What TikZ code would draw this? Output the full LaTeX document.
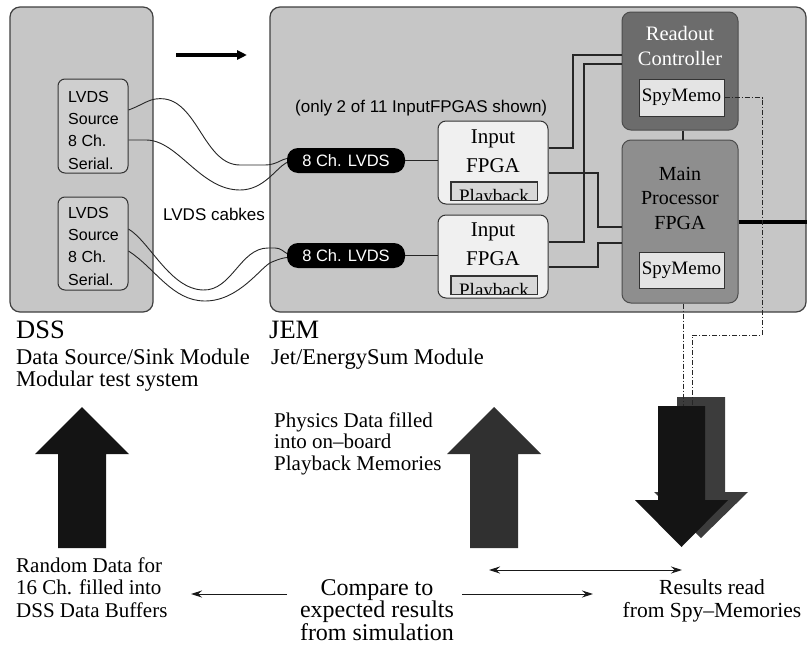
\documentclass[tikz,border=0pt]{standalone}
\usepackage{fontspec}
\setmainfont{Liberation Serif}
\setsansfont{Liberation Sans}
\usetikzlibrary{arrows.meta,calc}

\definecolor{panelgray}{HTML}{C6C6C6}
\definecolor{srcgray}{HTML}{CFCFCF}
\definecolor{fpgafill}{HTML}{F0F0F0}
\definecolor{pbfill}{HTML}{D8D8D8}
\definecolor{rocfill}{HTML}{6C6C6C}
\definecolor{mpfill}{HTML}{8E8E8E}
\definecolor{spyfill}{HTML}{E4E4E4}
\definecolor{arrowblack}{HTML}{141414}
\definecolor{arrowdark}{HTML}{303030}
\definecolor{arrowmid}{HTML}{3C3C3C}

\newcommand\fsz[2]{\fontsize{#1}{#2}\selectfont}

\begin{document}
\begin{tikzpicture}[x=1pt,y=-1pt,
  panel/.style={draw=black!75, line width=1.2pt, fill=panelgray, rounded corners=10pt, inner sep=0pt},
  srcbox/.style={draw=black!80, line width=1pt, fill=srcgray, rounded corners=7pt, inner sep=0pt,
                 minimum width=70pt, minimum height=94pt},
  pill/.style={fill=black, rounded corners=11pt, text=white, font=\sffamily\fsz{16.5}{18}, inner sep=0pt,
               minimum width=118pt, minimum height=25pt},
  fpga/.style={draw=black!80, line width=1pt, fill=fpgafill, rounded corners=8pt, inner sep=0pt,
               minimum width=110pt, minimum height=83pt},
  pbbox/.style={draw=black!80, line width=1pt, fill=pbfill, inner sep=0pt, minimum width=86pt, minimum height=18pt},
  ctrlbox/.style={draw=black!70, line width=1pt, rounded corners=9pt, inner sep=0pt, minimum width=116pt},
  spybox/.style={draw=black!80, line width=1pt, fill=spyfill, inner sep=0pt, minimum width=85pt, minimum height=37pt,
                 font=\fsz{19}{20}},
  wire/.style={draw=black!85, line width=1.2pt},
  cable/.style={draw=black!85, line width=0.9pt},
  spyline/.style={draw=black!85, line width=0.9pt, dash pattern=on 5pt off 2pt on 1pt off 2pt},
  lbl/.style={inner sep=0pt, anchor=base west},
  smallarrow/.style={draw=black!90, line width=1pt, -{Stealth[length=11pt,width=7pt]}},
]
\useasboundingbox[fill=white] (0,0) rectangle (807,645);

% ---------- module panels ----------
\node[panel, minimum width=143pt, minimum height=305pt] (dss) at (81.5,159.5) {};
\node[panel, minimum width=536pt, minimum height=305pt] (jem) at (538,159.5) {};

% flow direction arrow
\coordinate (flowA) at (176,55);
\coordinate (flowB) at (247,55);
\draw[line width=4pt, -{Triangle[length=10pt,width=9pt]}] (flowA) -- (flowB);

% ---------- DSS sources (multi-line labels are placed by their last baseline) ----------
\node[srcbox] (src1) at (93,126) {};
\node[srcbox, minimum height=93pt] (src2) at (93,243.5) {};
\node[lbl, font=\sffamily\fsz{16}{22.3}, align=left] (src1txt) at (68,169) {LVDS\\Source\\8 Ch.\\Serial.};
\node[lbl, font=\sffamily\fsz{16}{22.3}, align=left] (src2txt) at (68,285) {LVDS\\Source\\8 Ch.\\Serial.};

% ---------- JEM inputs ----------
\node[pill] (pill1) at (346,160.5) {8 Ch. LVDS};
\node[pill] (pill2) at (346,255.5) {8 Ch. LVDS};

\node[lbl, font=\sffamily\fsz{17}{18}] (note) at (295,112) {(only 2 of 11 InputFPGAS shown)};
\node[lbl, font=\sffamily\fsz{17}{18}] (cables) at (163,220) {LVDS cabkes};

\node[fpga] (in1) at (493,162.5) {};
\node[fpga] (in2) at (493,256.5) {};
\node[font=\fsz{21}{29}, align=center, inner sep=0pt, anchor=base] (in1txt) at (493,172) {Input\\FPGA};
\node[font=\fsz{21}{29}, align=center, inner sep=0pt, anchor=base] (in2txt) at (493,265) {Input\\FPGA};

\node[pbbox] (pb1) at (494,191) {};
\node[pbbox] (pb2) at (494,285) {};
\begin{scope}
  \clip (pb1.south west) rectangle (pb1.north east);
  \node[font=\fsz{19}{20}, inner sep=0pt, anchor=base] (pb1txt) at (494,202) {Playback};
\end{scope}
\begin{scope}
  \clip (pb2.south west) rectangle (pb2.north east);
  \node[font=\fsz{19}{20}, inner sep=0pt, anchor=base] (pb2txt) at (494,296) {Playback};
\end{scope}
\draw[draw=black!80, line width=1pt] (pb1.south west) rectangle (pb1.north east);
\draw[draw=black!80, line width=1pt] (pb2.south west) rectangle (pb2.north east);

% ---------- controller and main processor ----------
\node[ctrlbox, fill=rocfill, minimum height=118pt] (roc) at (680,71) {};
\node[ctrlbox, fill=mpfill, minimum height=163pt] (mp) at (680,221.5) {};
\node[font=\fsz{20.5}{25}, text=white, align=center, inner sep=0pt, anchor=base] (roctxt) at (680,65) {Readout\\Controller};
\node[font=\fsz{20}{24.5}, align=center, inner sep=0pt, anchor=base] (mptxt) at (680,229) {Main\\Processor\\FPGA};
\node[spybox] (spy1) at (681.5,97.5) {SpyMemo};
\node[spybox, minimum height=36pt] (spy2) at (681.5,270) {SpyMemo};

% ---------- connections on the board ----------
\draw[cable] (src1.east |- 0,110) .. controls (145,104) and (150,97) .. (165,99)
  .. controls (198,104) and (205,165) .. (240,165) -- (265,165)
  .. controls (276,165) and (282,159) .. ([yshift=2pt]pill1.west);
\draw[cable] (src1.east |- 0,140) -- (146,140) .. controls (178,140) and (200,190) .. (240,190)
  .. controls (264,190) and (276,168) .. ([yshift=-2pt]pill1.west);
\draw[cable] (src2.east |- 0,229) .. controls (150,242) and (170,289) .. (203,290)
  .. controls (232,291) and (240,248) .. (268,248) -- (275,248)
  .. controls (281,248) and (284,252) .. ([yshift=2pt]pill2.west);
\draw[cable] (src2.east |- 0,251) .. controls (155,268) and (172,301) .. (205,301)
  .. controls (240,301) and (262,265) .. (272,262)
  .. controls (279,259) and (283,258) .. ([yshift=-2pt]pill2.west);

\draw[wire] (pill1.east) -- (in1.west |- pill1.east);
\draw[wire] (pill2.east) -- (in2.west |- pill2.east);

\draw[wire] (in1.east |- 0,148) -- (573,148) |- (roc.west |- 0,55);
\draw[wire] (in1.east |- 0,173) -- (598,173) |- (mp.west |- 0,227);
\draw[wire] (in2.east |- 0,242) -- (584,242) |- (roc.west |- 0,64);
\draw[wire] (in2.east |- 0,267) -- (598,267) |- (mp.west |- 0,243);
\draw[wire] (roc.south -| 683,0) -- (mp.north -| 683,0);

\coordinate (busout) at (808,221.5);
\draw[line width=4pt] (mp.east) -- (busout);

% ---------- labels under the panels ----------
\node[lbl, font=\fsz{26.5}{28}] (dsstitle) at (16,338) {DSS};
\node[lbl, font=\fsz{26.5}{28}] (jemtitle) at (269,338) {JEM};
\node[lbl, font=\fsz{22.5}{24}] (dssname) at (16,364) {Data Source/Sink Module};
\node[lbl, font=\fsz{22.5}{24}] (dssrole) at (16,386) {Modular test system};
\node[lbl, font=\fsz{22.5}{24}] (jemname) at (271,364) {Jet/EnergySum Module};

% ---------- block arrows ----------
\fill[arrowblack] (82,407) -- (129,454) -- (106,454) -- (106,548) -- (58,548) -- (58,454) -- (35,454) -- cycle;
\fill[arrowdark] (494,407) -- (541,454) -- (518,454) -- (518,548) -- (470,548) -- (470,454) -- (447,454) -- cycle;
\fill[arrowmid] (677,397) -- (725,397) -- (725,492) -- (748,492) -- (701,538) -- (654,492) -- (677,492) -- cycle;
\fill[arrowblack] (658,406) -- (705,406) -- (705,500) -- (728,500) -- (681.5,547) -- (635,500) -- (658,500) -- cycle;

\coordinate (spyin1) at (692,406);
\coordinate (spyin2) at (683,406);
\draw[spyline] (spy1.east) -- (762,97.5) |- (692,335) -- (spyin1);
\draw[spyline] (mp.south -| 683,0) -- (spyin2);

% ---------- test flow texts ----------
\node[lbl, font=\fsz{21}{21.5}, align=left] (physics) at (274,470) {Physics Data filled\\into on--board\\Playback Memories};
\node[lbl, font=\fsz{21}{22.5}, align=left] (random) at (16,617) {Random Data for\\16 Ch. filled into\\DSS Data Buffers};
\node[font=\fsz{24}{22.5}, align=center, inner sep=0pt, anchor=base] (compare) at (377,640) {Compare to\\expected results\\from simulation};
\node[font=\fsz{21.5}{22.5}, align=center, inner sep=0pt, anchor=base] (results) at (712,617) {Results read\\from Spy--Memories};

\coordinate (cmpL) at (287,594);
\coordinate (rndR) at (191,594);
\coordinate (cmpR) at (462,594);
\coordinate (resL) at (593,594);
\coordinate (cmpA) at (489,570);
\coordinate (cmpB) at (682,570);
\draw[smallarrow] (cmpL) -- (rndR);
\draw[smallarrow] (cmpR) -- (resL);
\draw[smallarrow, {Stealth[length=11pt,width=7pt]}-{Stealth[length=11pt,width=7pt]}] (cmpA) -- (cmpB);
\end{tikzpicture}
\end{document}
